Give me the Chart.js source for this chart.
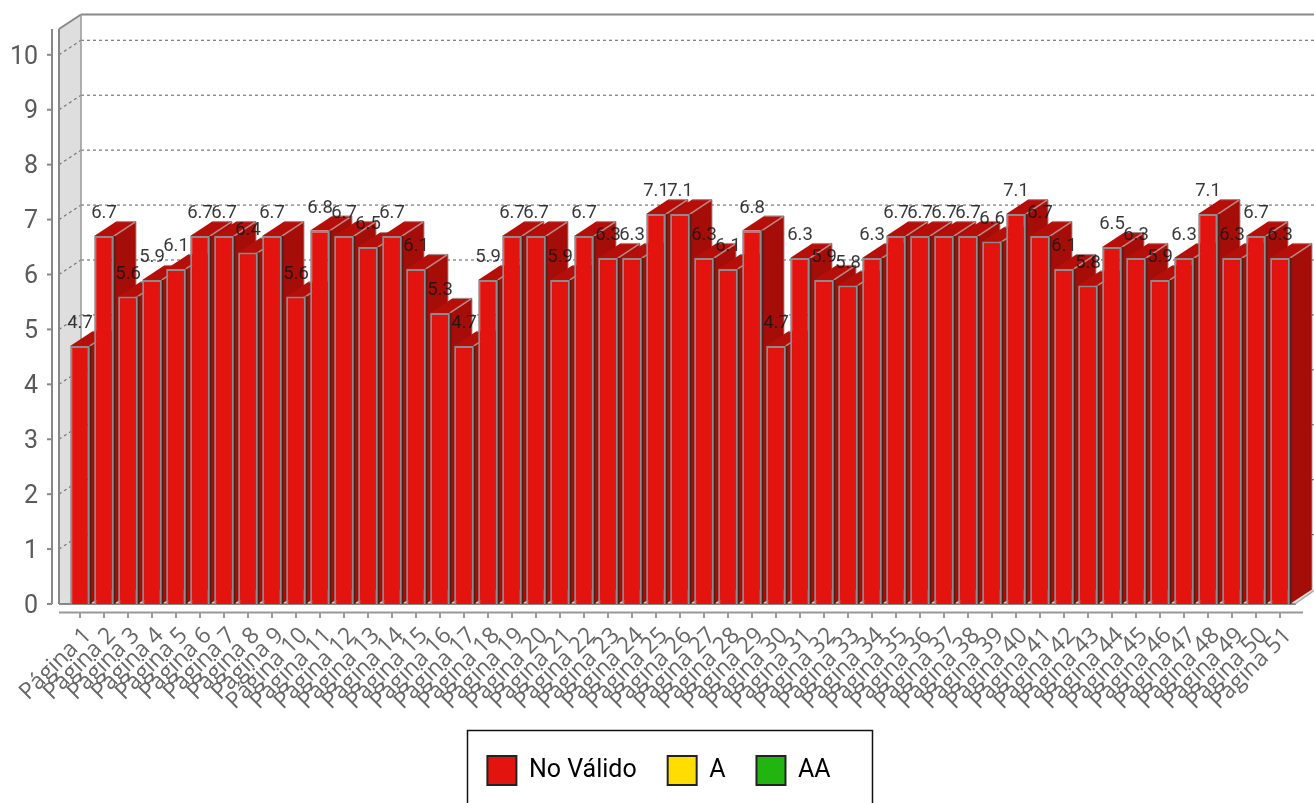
<!DOCTYPE html>
<html><head><meta charset="utf-8">
<style>html,body{margin:0;padding:0;background:#fff;overflow:hidden}canvas{display:block;filter:blur(.5px)}</style>
<script src="https://cdn.jsdelivr.net/npm/chart.js@4/dist/chart.umd.min.js"></script>
</head><body>
<canvas id="c" width="1314" height="803"></canvas>
<script>
const categories = Array.from({length:51},(_,i)=>'Página '+(i+1));
const noValido = [4.7,6.7,5.6,5.9,6.1,6.7,6.7,6.4,6.7,5.6,6.8,6.7,6.5,6.7,6.1,5.3,4.7,5.9,6.7,6.7,5.9,6.7,6.3,6.3,7.1,7.1,6.3,6.1,6.8,4.7,6.3,5.9,5.8,6.3,6.7,6.7,6.7,6.7,6.6,7.1,6.7,6.1,5.8,6.5,6.3,5.9,6.3,7.1,6.3,6.7,6.3];
const nivelA = [];
const nivelAA = [];
const seriesNames = ['No Válido','A','AA'];
const yTicks = [0,1,2,3,4,5,6,7,8,9,10];

const DX = 22, DY = -14.5, FONT = 'Roboto, sans-serif', FONT2 = '"Open Sans", sans-serif';
function poly(ctx, pts, fill, stroke, lw){
  ctx.beginPath(); pts.forEach((p,i)=>i?ctx.lineTo(p[0],p[1]):ctx.moveTo(p[0],p[1])); ctx.closePath();
  if(fill){ctx.fillStyle=fill;ctx.fill();}
  if(stroke){ctx.strokeStyle=stroke;ctx.lineWidth=lw||1;ctx.stroke();}
}
function line(ctx,x1,y1,x2,y2,c,w,dash){
  ctx.beginPath();ctx.setLineDash(dash||[]);ctx.moveTo(x1,y1);ctx.lineTo(x2,y2);ctx.strokeStyle=c;ctx.lineWidth=w;ctx.stroke();ctx.setLineDash([]);
}
const scene3d = {
  id:'scene3d',
  afterLayout(chart){ chart.legend.top = 725; chart.legend.left += 13; chart.legend.right += 13; },
  beforeDatasetsDraw(chart){
    const ctx=chart.ctx, xS=chart.scales.x, yS=chart.scales.y, a=chart.chartArea;
    const L=59, Y0=yS.getPixelForValue(0), T=a.top, R=chart.width;
    ctx.save();
    poly(ctx,[[L,T],[L+DX,T+DY],[L+DX,Y0+DY],[L,Y0]],'#dedede');
    poly(ctx,[[L,Y0],[L+DX,Y0+DY],[R,Y0+DY],[R,Y0+DY+1],[a.right+3,Y0]],'#dedede');
    yTicks.slice(1).forEach(v=>{
      const p=yS.getPixelForValue(v);
      line(ctx,L,p,L+DX,p+DY,'#777',1.2,[3,3]);
      line(ctx,L+DX,p+DY,R,p+DY,'#777',1.2,[3,3]);
    });
    line(ctx,L,T,L,Y0,'#888',2);
    line(ctx,L,T,L+DX,T+DY,'#888',2);
    line(ctx,L+DX,T+DY,R,T+DY,'#888',2);
    line(ctx,L+DX,T+DY,L+DX,Y0+DY,'#999',1.5);
    line(ctx,L,Y0,a.right+4,Y0,'#888',2);
    line(ctx,a.right+3,Y0,R,Y0+DY+1,'#aaa',1.5);
    line(ctx,52,T,52,Y0,'#888',2);
    yTicks.forEach(v=>{const p=yS.getPixelForValue(v);line(ctx,47,p,52,p,'#888',2);});
    line(ctx,L,Y0+8.5,a.right+11,Y0+8.5,'#999',2);
    categories.forEach((c,i)=>{const x=xS.getPixelForValue(i);line(ctx,x,Y0+9,x,Y0+14,'#999',2);});
    chart.getDatasetMeta(0).data.forEach(b=>{
      const hw=b.width/2, l=b.x-hw, r=b.x+hw, t=b.y, bt=b.base;
      poly(ctx,[[r,t],[r+DX,t+DY],[r+DX,bt+DY],[r,bt]],'#a50d08');
      poly(ctx,[[l,t],[l+DX,t+DY],[r+DX,t+DY],[r,t]],'#b60f0a');
      line(ctx,r,t,r+DX,t+DY,'#b98a88',1.5);
      line(ctx,l+DX,t+DY,r+DX,t+DY,'#a88',1.2);
      line(ctx,r+DX,t+DY,r+DX,bt+DY,'#8d5c5a',1);
      line(ctx,r,t,r,bt,'#5c1a18',3);
    });
    ctx.restore();
  },
  afterDatasetsDraw(chart){
    const ctx=chart.ctx;
    ctx.save();
    ctx.font='18.5px '+FONT;ctx.fillStyle='rgba(20,20,20,.85)';ctx.textAlign='center';ctx.textBaseline='middle';
    chart.getDatasetMeta(0).data.forEach((b,i)=>ctx.fillText(noValido[i].toFixed(1),b.x,b.y-22.5));
    ctx.restore();
  },
  afterDraw(chart){
    const ctx=chart.ctx;
    ctx.save();
    ctx.strokeStyle='#111';ctx.lineWidth=1.5;
    ctx.beginPath();ctx.moveTo(467.5,815);ctx.lineTo(467.5,730.5);ctx.lineTo(872.5,730.5);ctx.lineTo(872.5,815);ctx.stroke();
    ctx.restore();
  }
};
new Chart(document.getElementById('c'),{
  type:'bar',
  data:{labels:categories,datasets:[
    {label:seriesNames[0],data:noValido,backgroundColor:'#e3140f',borderColor:'#8c8c8c',borderWidth:2},
    {label:seriesNames[1],data:nivelA,backgroundColor:'#ffdd00',borderColor:'#222'},
    {label:seriesNames[2],data:nivelAA,backgroundColor:'#22b512',borderColor:'#222'}
  ]},
  plugins:[scene3d],
  options:{
    responsive:false,animation:false,
    events:[],
    layout:{padding:{top:29,right:22,left:0,bottom:0}},
    datasets:{bar:{grouped:false,barPercentage:0.82,categoryPercentage:1}},
    scales:{
      x:{type:'category',offset:true,
        grid:{display:false,drawTicks:true,tickLength:13},border:{display:false},
        afterFit(s){s.height=199-s.chart.legend.height;},
        ticks:{autoSkip:false,maxRotation:45,minRotation:45,padding:5,labelOffset:8,color:'#666',font:{family:FONT2,size:23}}},
      y:{min:0,max:10.47,
        grid:{display:false,drawTicks:false},border:{display:false},
        afterBuildTicks(s){s.ticks=yTicks.map(v=>({value:v}));},
        afterFit(s){s.width=68;s.paddingTop=0;},
        ticks:{padding:30,labelOffset:2.5,color:'#5a5a5a',font:{family:FONT,size:25}}}
    },
    plugins:{
      title:{display:false},tooltip:{enabled:false},
      legend:{position:'bottom',align:'center',labels:{
        boxWidth:29,boxHeight:29,padding:31,color:'#333',font:{family:FONT,size:25},
        generateLabels(chart){return chart.data.datasets.map((d,i)=>({text:d.label,fillStyle:d.backgroundColor,strokeStyle:'#222',lineWidth:2,datasetIndex:i,hidden:false}));}
      }}
    }
  }
});
</script>
</body></html>
